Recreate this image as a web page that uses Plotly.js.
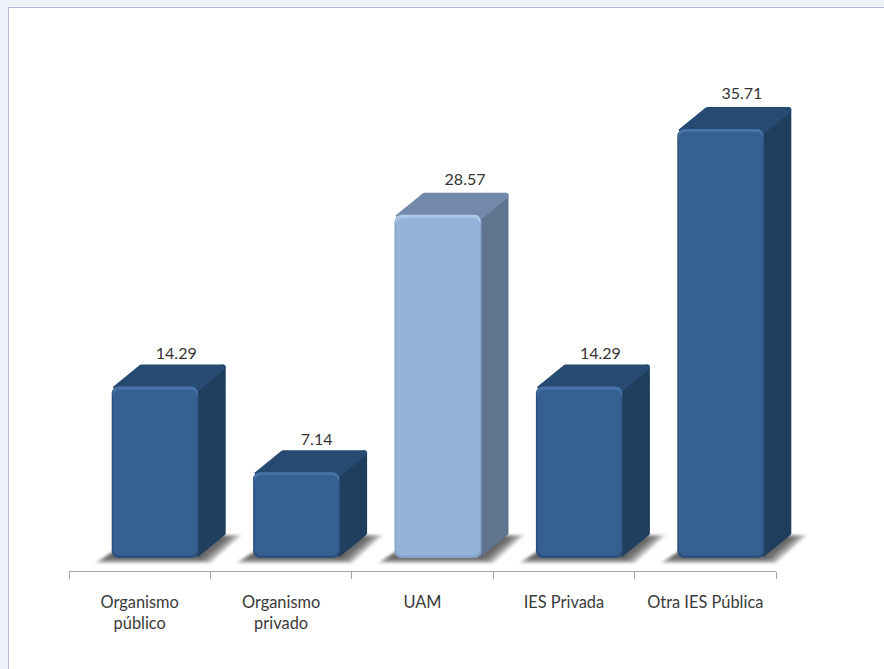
<!DOCTYPE html>
<html><head><meta charset="utf-8">
<script src="https://cdn.plot.ly/plotly-3.0.1.min.js"></script>
<style>
html,body{margin:0;padding:0;width:884px;height:669px;overflow:hidden;background:#edf2f8}
#chart{position:absolute;left:8px;top:7px;width:876px;height:662px;background:#fff;border-left:1px solid #b4b7d6;border-top:1px solid #b4b7d6;}
path.js-line{stroke-linejoin:round !important}
.cartesianlayer .plot{filter:blur(0.6px)}
.scatterlayer .trace:nth-child(-n+6){filter:blur(1.8px)}
.xtick text{filter:blur(0.3px)}
</style></head><body><div id="chart"></div>
<script>
const categories = ['Organismo<br>público','Organismo<br>privado','UAM','IES Privada','Otra IES Pública'];
const values = [14.29,7.14,28.57,14.29,35.71];
const valueLabels = ['14.29','7.14','28.57','14.29','35.71'];
const frontColors = ['#36608f','#36608f','#95b3d9','#36608f','#36608f'];
const edgeColors  = ['#2c507b','#2c507b','#86a3c9','#2c507b','#2c507b'];
const lightColors = ['#4674a8','#4674a8','#b0c9e8','#4674a8','#4674a8'];
const topColors   = ['#264a72','#264a72','#7389a9','#264a72','#264a72'];
const sideColors  = ['#203e5e','#203e5e','#5e748f','#203e5e','#203e5e'];
const labelNudgeX = [0,-1,6,0,0];
const labelNudgeY = [0,0,3,0,3];

// scale helpers: the axis spans 707px, the plot area runs 68px further to hold the last bar's depth and shadow
const W=707, extra=68, H=513, yMin=-1.08, yMax=41.63;
const px=W/5, py=H/(yMax-yMin);
const ux=p=>p/px, uy=p=>p/py;
const shift=ux(15.5), halfW=ux(43.5), dx=ux(27), dy=uy(22);
const idx=values.map((_,i)=>i);
const traces=[];
const base={xaxis:'x',yaxis:'y',hoverinfo:'skip',showlegend:false,cliponaxis:false};

// ground shadows, layered for a soft edge
[0,2,4,6,8,10].forEach(s=>{
  const xs=[],ys=[];
  idx.forEach(i=>{
    const xl=i+shift-halfW, xr=i+shift+halfW;
    xs.push(xl-ux(17-s),xr+ux(12-s),xr+dx+ux(16-s*1.5),xl+dx,null);
    ys.push(uy(-5+s*.45),uy(-5+s*.45),dy+uy(1-s*.2),dy+uy(1-s*.2),null);
  });
  traces.push({...base,type:'scatter',mode:'none',x:xs,y:ys,fill:'toself',fillcolor:'rgba(50,50,50,0.2)'});
});
// side and top faces
idx.forEach(i=>{
  const xr=i+shift+halfW, xl=i+shift-halfW, v=values[i], r=uy(3), q=ux(3);
  traces.push({...base,type:'scatter',mode:'lines',x:[xr-q,xr+dx-q,xr+dx-q,xr-q,xr-q],y:[r,dy+r,v+dy-r,v-r,r],
    fill:'toself',fillcolor:sideColors[i],line:{color:sideColors[i],width:6}});
  traces.push({...base,type:'scatter',mode:'lines',x:[xl+q,xl+dx+q,xr+dx-q,xr-q,xl+q],y:[v-r,v+dy-r,v+dy-r,v-r,v-r],
    fill:'toself',fillcolor:topColors[i],line:{color:topColors[i],width:6}});
});
// value labels
traces.push({...base,type:'scatter',mode:'text',
  x:idx.map(i=>i+shift+dx*.78+ux(labelNudgeX[i])),y:values.map((v,i)=>v+dy+uy(1+labelNudgeY[i])),text:valueLabels,textposition:'top center',
  textfont:{family:'Lato, Carlito, sans-serif',size:16,color:'#333'}});
// front faces: nested bars give the bevel
const front=(inL,inR,inT,inB,col,rad)=>({type:'bar',xaxis:'x2',yaxis:'y',hoverinfo:'skip',showlegend:false,
  x:idx,y:values.map(v=>v-uy(inT+inB)),base:values.map(()=>uy(inB)),
  width:ux(87-inL-inR),offset:shift-halfW+ux(inL),
  marker:{color:col,line:{width:0},cornerradius:rad}});
traces.push(front(0,0,0,0,edgeColors,7));
traces.push({...front(1,1,0,0,lightColors,6),y:values.map(v=>uy(14)),base:values.map(v=>v-uy(14))});
traces.push(front(1.5,1.5,3,2.5,frontColors,6));
// category axis
traces.push({type:'scatter',mode:'none',xaxis:'x3',yaxis:'y',x:categories,y:values.map(()=>null),hoverinfo:'skip',showlegend:false});

const xRange=[-.5,4.5+ux(extra)];
const hidden=r=>({range:r,visible:false,fixedrange:true,domain:[0,1]});
Plotly.newPlot('chart',traces,{
  width:875,height:661,paper_bgcolor:'#fff',plot_bgcolor:'rgba(0,0,0,0)',
  margin:{l:60,r:108-extra,t:50,b:98,pad:0},barmode:'overlay',showlegend:false,
  xaxis:hidden(xRange),
  xaxis2:{...hidden(xRange),overlaying:'x',anchor:'y'},
  xaxis3:{domain:[0,W/(W+extra)],anchor:'y',type:'category',categoryorder:'array',categoryarray:categories,range:[-.5,4.5],tickson:'boundaries',
    ticks:'outside',ticklen:7,tickwidth:1,tickcolor:'#a6a6a6',showline:true,linecolor:'#a6a6a6',linewidth:1,showgrid:false,zeroline:false,
    tickangle:0,tickfont:{family:'Lato, Carlito, sans-serif',size:16.4,color:'#3a3a3a'},ticklabelstandoff:16,fixedrange:true},
  yaxis:{range:[yMin,yMax],visible:false,fixedrange:true}
},{displayModeBar:false,staticPlot:true});
</script></body></html>
